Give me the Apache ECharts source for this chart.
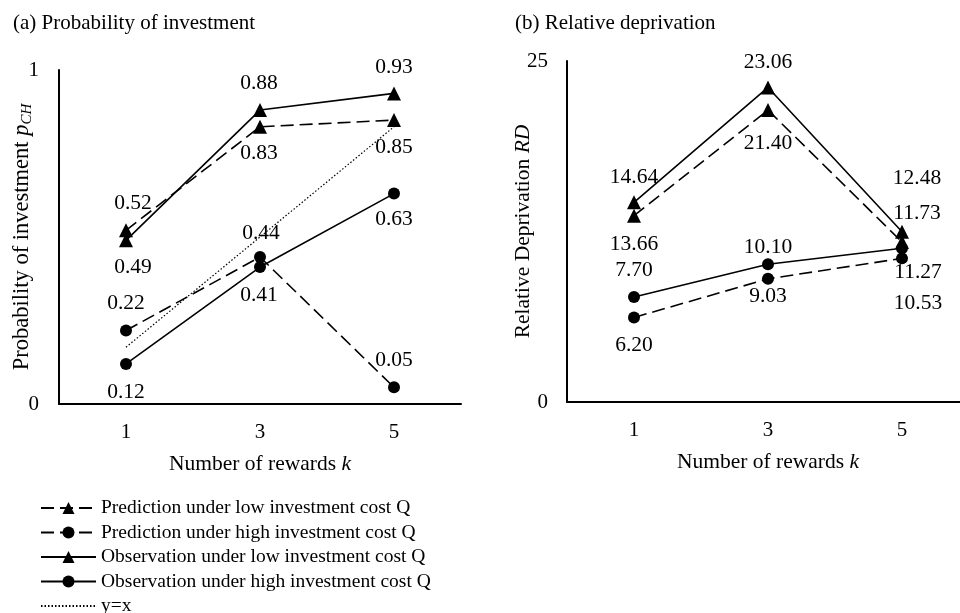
<!DOCTYPE html>
<html>
<head>
<meta charset="utf-8">
<script src="https://cdn.jsdelivr.net/npm/echarts@6/dist/echarts.min.js"></script>
<style>html,body{margin:0;padding:0;background:#fff;overflow:hidden}#c{width:980px;height:613px}</style>
</head>
<body>
<div id="c"></div>
<script>
// ---- data ----
const categories = ['1', '3', '5'];
// (a) Probability of investment
const aPredLow  = [0.52, 0.83, 0.85];
const aPredHigh = [0.22, 0.44, 0.05];
const aObsLow   = [0.49, 0.88, 0.93];
const aObsHigh  = [0.12, 0.41, 0.63];
const aYeqX     = [0.17, 0.50, 0.83];
// (b) Relative deprivation
const bPredLow  = [13.66, 21.40, 11.73];
const bPredHigh = [6.20, 9.03, 10.53];
const bObsLow   = [14.64, 23.06, 12.48];
const bObsHigh  = [7.70, 10.10, 11.27];
const aTicks = [0, 1];
const bTicks = [0, 25];

// ---- label offsets (style) ----
const offA = {
  predLow:  [[7,-27],[-1,27],[0,27]],
  predHigh: [[0,-27],[1,-24],[0,-27]],
  obsLow:   [[7,27],[-1,-27],[0,-26]],
  obsHigh:  [[0,28],[-1,28],[0,26]]
};
const offB = {
  predLow:  [[0,29],[0,33],[15,-29]],
  predHigh: [[0,28],[0,18],[16,45]],
  obsLow:   [[0,-25],[0,-25],[15,-53]],
  obsHigh:  [[0,-27],[0,-17],[16,24]]
};

const FONT = 'Liberation Serif';
const N1 = 'Prediction under low investment cost Q';
const N2 = 'Prediction under high investment cost Q';
const N3 = 'Observation under low investment cost Q';
const N4 = 'Observation under high investment cost Q';
const N5 = 'y=x';

function items(vals, offs, dec) {
  return vals.map((v, i) => ({
    value: v,
    label: { offset: offs[i], formatter: v.toFixed(dec) }
  }));
}
const lbl = { show: true, position: 'inside', fontFamily: FONT, fontSize: 21.5, color: '#000' };
function mk(name, data, idx, dashed, sym, size) {
  return {
    name, type: 'line', xAxisIndex: idx, yAxisIndex: idx, data,
    symbol: sym, symbolSize: size, showSymbol: true,
    itemStyle: { color: '#000' },
    lineStyle: { color: '#000', width: 1.6, type: dashed ? [13, 6] : 'solid' },
    label: lbl, emphasis: { disabled: true }, z: 3
  };
}

const axisNameStyle = { fontFamily: FONT, fontSize: 21.5, color: '#000' };

const option = {
  backgroundColor: '#fff',
  animation: false,
  textStyle: { fontFamily: FONT, color: '#000' },
  title: [
    { text: '(a) Probability of investment', left: 8, top: 8, textStyle: { fontFamily: FONT, fontSize: 21, fontWeight: 'normal', color: '#000' } },
    { text: '(b) Relative deprivation', left: 510, top: 8, textStyle: { fontFamily: FONT, fontSize: 21, fontWeight: 'normal', color: '#000' } }
  ],
  legend: {
    orient: 'vertical', left: 40, top: 498, height: 150, padding: 0,
    itemWidth: 55, itemHeight: 15, itemGap: 4.5,
    textStyle: { fontFamily: FONT, fontSize: 19.5, color: '#000' },
    data: [N1, N2, N3, N4, N5],
    selectedMode: false
  },
  grid: [
    { left: 59, top: 70, width: 402, height: 334 },
    { left: 567, top: 61, width: 402, height: 341 }
  ],
  xAxis: [0, 1].map(i => ({
    type: 'category', gridIndex: i, data: categories,
    axisLine: { lineStyle: { color: '#000', width: 2 } },
    axisTick: { show: false },
    axisLabel: { fontFamily: FONT, fontSize: 21, color: '#000', margin: 18 },
    name: 'Number of rewards {i|k}', nameLocation: 'middle', nameGap: 49,
    nameTextStyle: Object.assign({}, axisNameStyle, { rich: { i: { fontFamily: FONT, fontSize: 21.5, fontStyle: 'italic', color: '#000' } } })
  })),
  yAxis: [
    {
      type: 'value', gridIndex: 0, min: aTicks[0], max: aTicks[1], interval: 1,
      axisLine: { show: true, lineStyle: { color: '#000', width: 2 } },
      splitLine: { show: false }, axisTick: { show: false },
      axisLabel: { fontFamily: FONT, fontSize: 21, color: '#000', margin: 20 },
      name: 'Probability of investment {i|p}{s|CH}', nameLocation: 'middle', nameRotate: 90, nameGap: 24,
      nameMoveOverlap: false,
      nameTextStyle: Object.assign({}, axisNameStyle, {
        fontSize: 22.5,
        rich: {
          i: { fontFamily: FONT, fontSize: 22.5, fontStyle: 'italic', color: '#000' },
          s: { fontFamily: FONT, fontSize: 15, fontStyle: 'italic', color: '#000', verticalAlign: 'bottom', padding: [10, 0, 0, 0] }
        }
      })
    },
    {
      type: 'value', gridIndex: 1, min: bTicks[0], max: bTicks[1], interval: 25,
      axisLine: { show: true, lineStyle: { color: '#000', width: 2 } },
      splitLine: { show: false }, axisTick: { show: false },
      axisLabel: { fontFamily: FONT, fontSize: 21, color: '#000', margin: 19 },
      name: 'Relative Deprivation {i|RD}', nameLocation: 'middle', nameRotate: 90, nameGap: 33,
      nameMoveOverlap: false,
      nameTextStyle: Object.assign({}, axisNameStyle, {
        rich: { i: { fontFamily: FONT, fontSize: 21.5, fontStyle: 'italic', color: '#000' } }
      })
    }
  ],
  series: [
    mk(N1, items(aPredLow, offA.predLow, 2), 0, true, 'triangle', 14),
    mk(N2, items(aPredHigh, offA.predHigh, 2), 0, true, 'circle', 12),
    mk(N3, items(aObsLow, offA.obsLow, 2), 0, false, 'triangle', 14),
    mk(N4, items(aObsHigh, offA.obsHigh, 2), 0, false, 'circle', 12),
    {
      name: N5, type: 'line', xAxisIndex: 0, yAxisIndex: 0, data: aYeqX,
      symbol: 'none', lineStyle: { color: '#000', width: 1.2, type: [1.5, 2] },
      itemStyle: { color: 'rgba(0,0,0,0)' }, emphasis: { disabled: true }, z: 2
    },
    mk(N1, items(bPredLow, offB.predLow, 2), 1, true, 'triangle', 14),
    mk(N2, items(bPredHigh, offB.predHigh, 2), 1, true, 'circle', 12),
    mk(N3, items(bObsLow, offB.obsLow, 2), 1, false, 'triangle', 14),
    mk(N4, items(bObsHigh, offB.obsHigh, 2), 1, false, 'circle', 12)
  ]
};
const chart = echarts.init(document.getElementById('c'), null, { renderer: 'canvas' });
chart.setOption(option);
</script>
</body>
</html>
